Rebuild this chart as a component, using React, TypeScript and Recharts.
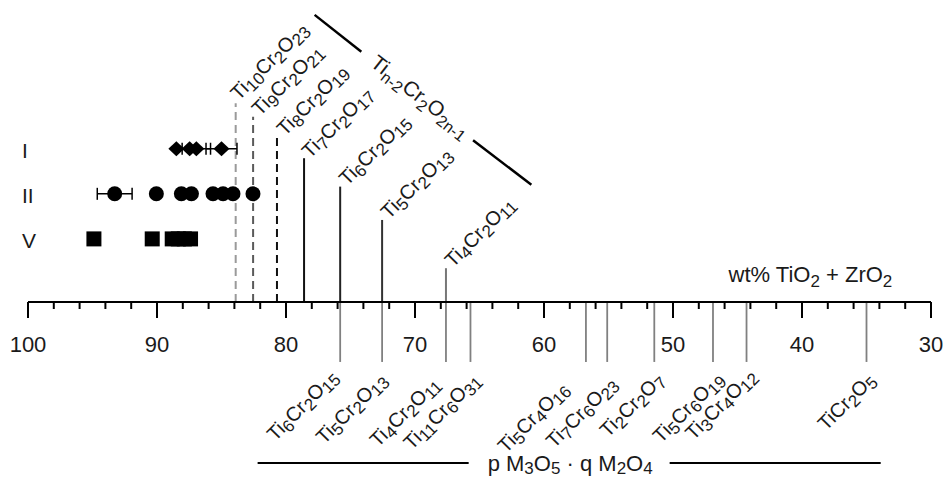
import React from 'react';
import { ScatterChart, Scatter, XAxis, YAxis, ErrorBar, ReferenceLine, ReferenceDot } from 'recharts';

const FONT = '"Liberation Sans", Arial, Helvetica, sans-serif';

// ---- sample rows ----
const rowLevels = [3, 2, 1];
const rowNames = ['I', 'II', 'V'];

const rowIPlainX = [88.5, 87.47];
const rowIErrX = [86.95, 85.0];
const rowIErr = [1.1, 1.2];
const rowIIErrX = [93.28];
const rowIIErr = [1.35];
const rowIIPlainX = [90.05, 88.11, 87.33, 85.66, 84.88, 84.11, 82.56];
const rowVPlainX = [94.89, 90.37, 88.82, 88.35, 87.88, 87.4];

// ---- axis ticks ----
const majorTicks = [100, 90, 80, 70, 60, 50, 40, 30];
const allTicks = [100, 98, 96, 94, 92, 90, 88, 86, 84, 82, 80, 78, 76, 74, 72, 70, 68, 66, 64, 62, 60,
  58, 56, 54, 52, 50, 48, 46, 44, 42, 40, 38, 36, 34, 32, 30];

// ---- homologous series Ti(n-2)Cr2O(2n-1) (above axis) ----
const upperNames = ['Ti10Cr2O23', 'Ti9Cr2O21', 'Ti8Cr2O19', 'Ti7Cr2O17', 'Ti6Cr2O15', 'Ti5Cr2O13', 'Ti4Cr2O11'];
const upperX = [83.9, 82.55, 80.7, 78.6, 75.8, 72.55, 67.6];
const upperTop = [4.01, 3.71, 3.31, 2.79, 2.16, 1.42, 0.35];

// ---- p M3O5 · q M2O4 phases (below axis) ----
const lowerNames = ['Ti6Cr2O15', 'Ti5Cr2O13', 'Ti4Cr2O11', 'Ti11Cr6O31', 'Ti5Cr4O16', 'Ti7Cr6O23',
  'Ti2Cr2O7', 'Ti5Cr6O19', 'Ti3Cr4O12', 'TiCr2O5'];
const lowerX = [75.8, 72.55, 67.6, 65.7, 56.75, 55.1, 51.45, 46.9, 44.3, 35.0];

// ---- annotation extents (data units) ----
const axisLevel = -0.4;
const lowerEnd = -1.73;
const homologBracket = [[77.78, 5.97, 74.16, 5.15], [65.5, 3.19, 60.98, 2.2]];
const homologLabelPos = [69.9, 4.04];
const seriesBracket = [[82.2, 65.84], [50.26, 33.9]];
const seriesLevel = -3.97;
const seriesLabelPos = [57.97, -4.16];
const axisTitlePos = [33.0, 0.04];

// ---- styles (kept apart from data) ----
const upperStroke = ['#9a9a9a', '#5a5a5a', '#111', '#111', '#222', '#333', '#777'];
const upperDash = ['8 5', '8 5', '8 5', undefined, undefined, undefined, undefined];
const upperNudge = [[3, -2], [7, 0], [8, 2], [6, 1], [7, 0], [7, 0], [7, 0]];
const lowerNudge = [[-1, 16], [6, 19], [-5, 23], [11, 19], [-16, 28], [11, 23], [11, 19], [12, 18], [11, 15], [10, 19]];

type Seg = [string, boolean];

function chemSegs(f: string): Seg[] {
  const out: Seg[] = [];
  const re = /([A-Z][a-z]?)([0-9n\-]*)/g;
  let m: RegExpExecArray | null;
  while ((m = re.exec(f))) {
    out.push([m[1], false]);
    if (m[2]) out.push([m[2], true]);
  }
  return out;
}

function Rich({ x, y, segs, size, sub, shift, anchor = 'start', angle = 0, fill = '#1a1a1a' }: any) {
  let down = false;
  const kids = segs.map(([t, isSub]: Seg, i: number) => {
    let dy = 0;
    if (isSub && !down) { dy = shift; down = true; }
    else if (!isSub && down) { dy = -shift; down = false; }
    return (
      <tspan key={i} fontSize={isSub ? sub : size} dy={dy}>{t}</tspan>
    );
  });
  return (
    <text x={x} y={y} textAnchor={anchor} fontFamily={FONT} fontSize={size} fill={fill}
      transform={angle ? `rotate(${angle} ${x} ${y})` : undefined} style={{ whiteSpace: 'pre' }}>
      {kids}
    </text>
  );
}

function XTick(p: any) {
  const v = p.payload.value;
  const major = majorTicks.includes(v);
  return (
    <g>
      <line x1={p.x} x2={p.x} y1={p.y} y2={p.y + (major ? 16 : 7)} stroke="#000" strokeWidth={2} />
      {major && (
        <text x={p.x} y={p.y + 50} textAnchor="middle" fontFamily={FONT} fontSize={22} fill="#1a1a1a">{v}</text>
      )}
    </g>
  );
}

function YTick(p: any) {
  const idx = rowLevels.indexOf(p.payload.value);
  return (
    <text x={p.x - 6} y={p.y + 9} textAnchor="start" fontFamily={FONT} fontSize={21} fill="#1a1a1a">
      {rowNames[idx]}
    </text>
  );
}

const diamond = (p: any) => (
  <polygon points={`${p.cx},${p.cy - 7.5} ${p.cx + 8},${p.cy} ${p.cx},${p.cy + 7.5} ${p.cx - 8},${p.cy}`} fill="#000" />
);
const circle = (p: any) => <circle cx={p.cx} cy={p.cy} r={7.5} fill="#000" />;
const square = (p: any) => <rect x={p.cx - 7.5} y={p.cy - 7.5} width={15} height={15} fill="#000" />;

const rowIPlain = rowIPlainX.map((x) => ({ x, y: rowLevels[0] }));
const rowIErrData = rowIErrX.map((x, i) => ({ x, y: rowLevels[0], err: rowIErr[i] }));
const rowIIErrData = rowIIErrX.map((x, i) => ({ x, y: rowLevels[1], err: rowIIErr[i] }));
const rowIIPlain = rowIIPlainX.map((x) => ({ x, y: rowLevels[1] }));
const rowVPlain = rowVPlainX.map((x) => ({ x, y: rowLevels[2] }));

export default function App() {
  return (
    <div style={{ position: 'absolute', left: 0, top: 0, background: '#fff' }}>
      <ScatterChart width={946} height={480} margin={{ top: 0, right: 15, bottom: 0, left: 0 }}>
        <XAxis type="number" dataKey="x" domain={[30, 100]} reversed allowDataOverflow ticks={allTicks}
          interval={0} tickSize={0} tickMargin={0} tickLine={false}
          axisLine={{ stroke: '#000', strokeWidth: 2 }} height={178} tick={(p: any) => <XTick {...p} />} />
        <YAxis type="number" dataKey="y" domain={[-0.4, 6.3]} allowDataOverflow ticks={rowLevels} interval={0}
          width={28} tickSize={0} tickMargin={0} tickLine={false} axisLine={false}
          tick={(p: any) => <YTick {...p} />} />

        {upperX.map((v, i) => (
          <ReferenceLine key={'u' + i} segment={[{ x: v, y: axisLevel }, { x: v, y: upperTop[i] }]}
            stroke={upperStroke[i]} strokeWidth={2} strokeDasharray={upperDash[i]} ifOverflow="visible" />
        ))}
        {lowerX.map((v, i) => (
          <ReferenceLine key={'l' + i} segment={[{ x: v, y: axisLevel }, { x: v, y: lowerEnd }]}
            stroke="#808080" strokeWidth={1.8} ifOverflow="visible" />
        ))}
        {homologBracket.map((b, i) => (
          <ReferenceLine key={'h' + i} segment={[{ x: b[0], y: b[1] }, { x: b[2], y: b[3] }]}
            stroke="#000" strokeWidth={2.5} ifOverflow="visible" />
        ))}
        {seriesBracket.map((b, i) => (
          <ReferenceLine key={'s' + i} segment={[{ x: b[0], y: seriesLevel }, { x: b[1], y: seriesLevel }]}
            stroke="#000" strokeWidth={2} ifOverflow="visible" />
        ))}

        {upperX.map((v, i) => (
          <ReferenceDot key={'ut' + i} x={v} y={upperTop[i]} r={0} ifOverflow="visible"
            shape={(p: any) => (
              <Rich x={p.cx + upperNudge[i][0]} y={p.cy + upperNudge[i][1]} segs={chemSegs(upperNames[i])}
                size={20} sub={17} shift={4} angle={-45} />
            )} />
        ))}
        {lowerX.map((v, i) => (
          <ReferenceDot key={'lt' + i} x={v} y={lowerEnd} r={0} ifOverflow="visible"
            shape={(p: any) => (
              <Rich x={p.cx + lowerNudge[i][0]} y={p.cy + lowerNudge[i][1]} segs={chemSegs(lowerNames[i])}
                size={20} sub={17} shift={4} angle={-45} anchor="end" />
            )} />
        ))}
        <ReferenceDot x={homologLabelPos[0]} y={homologLabelPos[1]} r={0} ifOverflow="visible"
          shape={(p: any) => (
            <Rich x={p.cx} y={p.cy} segs={chemSegs('Tin-2Cr2O2n-1')} size={21} sub={16} shift={5}
              angle={38} anchor="middle" />
          )} />
        <ReferenceDot x={axisTitlePos[0]} y={axisTitlePos[1]} r={0} ifOverflow="visible"
          shape={(p: any) => (
            <Rich x={p.cx} y={p.cy} segs={[['wt% TiO', false], ['2', true], [' + ZrO', false], ['2', true]]}
              size={22} sub={17} shift={5} anchor="end" />
          )} />
        <ReferenceDot x={seriesLabelPos[0]} y={seriesLabelPos[1]} r={0} ifOverflow="visible"
          shape={(p: any) => (
            <Rich x={p.cx} y={p.cy}
              segs={[['p M', false], ['3', true], ['O', false], ['5', true], [' · q M', false], ['2', true], ['O', false], ['4', true]]}
              size={22} sub={17} shift={3} anchor="middle" />
          )} />

        <Scatter data={rowIPlain} shape={diamond} isAnimationActive={false} />
        <Scatter data={rowIErrData} shape={diamond} isAnimationActive={false}>
          <ErrorBar dataKey="err" direction="x" width={6} stroke="#000" strokeWidth={1.5} />
        </Scatter>
        <Scatter data={rowIIErrData} shape={circle} isAnimationActive={false}>
          <ErrorBar dataKey="err" direction="x" width={6} stroke="#000" strokeWidth={1.5} />
        </Scatter>
        <Scatter data={rowIIPlain} shape={circle} isAnimationActive={false} />
        <Scatter data={rowVPlain} shape={square} isAnimationActive={false} />
      </ScatterChart>
    </div>
  );
}
